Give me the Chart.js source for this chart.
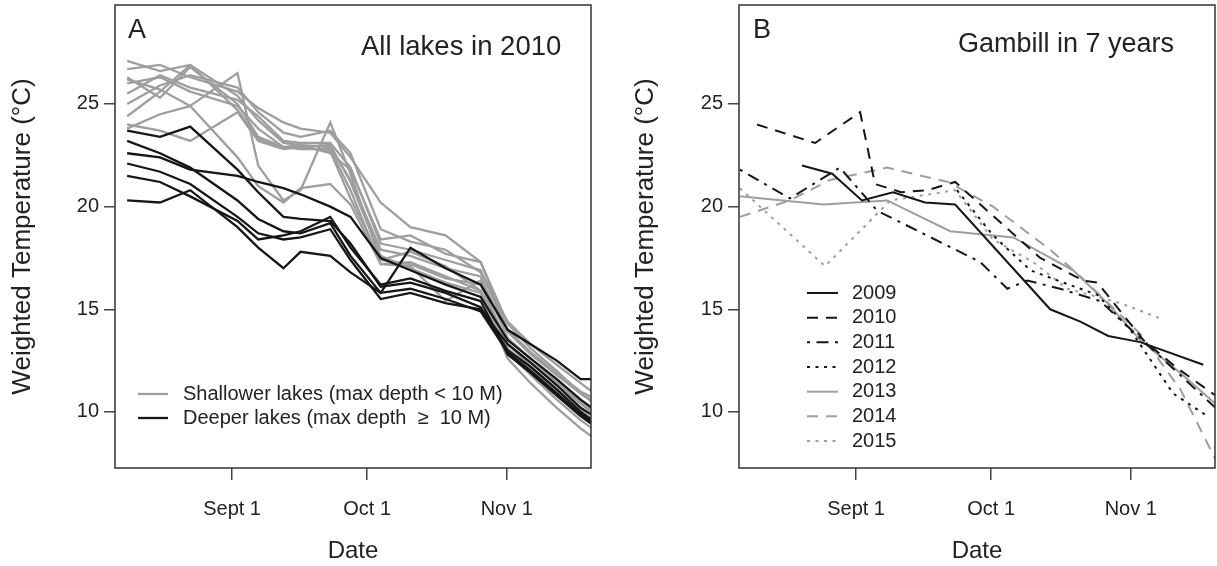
<!DOCTYPE html>
<html lang="en">
<head>
<meta charset="UTF-8">
<title>Weighted temperature</title>
<script src="https://cdn.jsdelivr.net/npm/chart.js"></script>
<style>
  body { margin: 0; background: #fff; }
  #wrap { position: relative; width: 1217px; height: 566px; }
  canvas { position: absolute; top: 0; }
</style>
</head>
<body>
<div id="wrap">
  <canvas id="chartA" width="608" height="566" style="left:0"></canvas>
  <canvas id="chartB" width="609" height="566" style="left:608px"></canvas>
</div>
<script>
// x values are day of year (Sept 1 = 244)
const tickDays = [244, 274, 305];
const tickNames = ['Sept 1', 'Oct 1', 'Nov 1'];
const yTicks = [10, 15, 20, 25];

// Panel A: all lakes in 2010, sampled on a common set of days
const daysA = [220.7, 228.0, 234.7, 245.2, 249.8, 255.4, 259.2, 265.8, 270.3, 277.0, 283.6, 291.4, 299.2, 305.2, 310.3, 316.1, 321.4, 325.8];

const deepLakes = [
  [23.7, 23.4, 23.9, 21.8, 20.7, 19.5, 19.4, 19.3, 18.2, 16.1, 16.3, 15.8, 15.1, 13.0, 12.2, 11.1, 10.0, 9.3],
  [23.2, 22.6, 21.9, 20.3, 19.4, 18.8, 18.7, 19.2, 17.6, 15.8, 16.0, 15.5, 14.9, 12.9, 12.0, 10.9, 9.9, 9.2],
  [22.6, 22.4, 21.8, 21.5, 21.2, 20.9, 20.6, 20.0, 19.5, 17.5, 16.9, 16.2, 15.6, 13.5, 12.6, 11.6, 10.6, 9.9],
  [20.3, 20.2, 20.8, 19.0, 18.0, 17.0, 17.8, 17.6, 16.8, 15.8, 18.0, 17.0, 16.2, 14.0, 13.3, 12.5, 11.6, 11.6],
  [22.1, 21.7, 21.1, 19.5, 18.7, 18.4, 18.5, 18.9, 17.4, 15.5, 15.8, 15.3, 15.0, 13.3, 12.4, 11.3, 10.2, 9.6],
  [21.5, 21.2, 20.5, 19.3, 18.4, 18.6, 18.8, 19.5, 18.0, 16.2, 16.5, 15.9, 15.4, 12.8, 11.9, 10.8, 9.8, 9.1]
];

const shallowLakes = [
  [27.1, 26.6, 26.9, 25.4, 24.2, 23.1, 23.0, 22.9, 21.3, 17.9, 17.6, 17.0, 16.6, 13.6, 12.6, 11.5, 10.5, 9.8],
  [26.2, 25.7, 24.9, 26.5, 22.0, 20.3, 20.8, 24.1, 21.6, 17.4, 17.2, 16.5, 16.2, 13.3, 12.2, 11.1, 10.1, 9.3],
  [26.7, 26.9, 26.3, 25.6, 24.8, 24.1, 23.8, 23.6, 22.4, 20.2, 19.0, 18.6, 17.3, 14.3, 13.1, 12.0, 10.9, 10.2],
  [26.3, 25.3, 26.8, 25.0, 23.4, 22.9, 22.8, 22.8, 20.8, 17.2, 17.3, 16.6, 15.9, 12.9, 11.8, 10.6, 9.6, 8.9],
  [25.5, 26.4, 25.8, 25.2, 24.4, 23.2, 23.1, 23.1, 21.9, 18.2, 17.9, 17.4, 16.9, 13.9, 12.8, 11.8, 10.9, 10.3],
  [24.4, 25.6, 26.9, 24.7, 23.3, 22.9, 22.9, 23.0, 21.2, 17.6, 17.0, 16.3, 15.8, 12.6, 11.4, 10.2, 9.2, 8.5],
  [23.8, 24.5, 24.9, 22.4, 21.0, 20.2, 20.9, 21.1, 20.1, 17.2, 17.1, 15.4, 16.4, 13.1, 12.1, 11.0, 10.0, 9.4],
  [24.0, 23.7, 23.2, 24.6, 23.2, 22.8, 22.9, 22.7, 20.4, 17.4, 17.8, 17.1, 15.9, 13.3, 12.4, 11.4, 10.4, 9.7],
  [26.0, 26.3, 25.6, 24.9, 23.8, 22.9, 23.0, 22.6, 21.8, 18.4, 18.6, 17.7, 17.3, 14.0, 12.9, 11.9, 11.0, 10.5],
  [25.0, 25.9, 26.4, 25.8, 24.6, 23.6, 23.4, 23.7, 22.6, 18.9, 18.3, 17.9, 16.8, 14.4, 13.3, 12.3, 11.4, 10.7]
];

// Panel B: Gambill in 7 years
const years = ['2009', '2010', '2011', '2012', '2013', '2014', '2015'];
const days2009 = [232.0, 238.7, 245.3, 252.2, 259.3, 266.0, 287.1, 293.8, 300.0, 307.1, 321.1];
const temp2009 = [22.0, 21.6, 20.3, 20.7, 20.2, 20.1, 15.0, 14.4, 13.7, 13.4, 12.3];
const days2010 = [222.0, 234.9, 244.9, 248.2, 254.0, 259.8, 266.0, 284.9, 294.4, 297.6, 307.8, 314.9, 323.8];
const temp2010 = [24.0, 23.1, 24.6, 21.1, 20.7, 20.8, 21.2, 17.5, 16.4, 16.3, 13.5, 12.2, 10.8];
const days2011 = [218.2, 229.3, 240.4, 248.7, 271.6, 277.6, 282.0, 289.3, 298.2, 307.1, 323.8];
const temp2011 = [21.8, 20.4, 21.9, 19.8, 17.3, 16.0, 16.4, 16.0, 15.4, 13.6, 10.2];
const days2012 = [266.4, 274.4, 282.7, 290.0, 297.6, 304.9, 314.4, 322.0];
const temp2012 = [20.8, 18.6, 16.9, 16.3, 15.7, 14.0, 10.9, 9.8];
const days2013 = [218.2, 236.7, 250.9, 264.9, 278.9, 292.2, 299.8, 307.1, 316.0, 323.8];
const temp2013 = [20.5, 20.1, 20.3, 18.8, 18.5, 16.9, 15.3, 13.5, 11.9, 10.4];
const days2014 = [218.2, 229.3, 238.2, 250.9, 264.4, 274.4, 287.1, 293.8, 307.1, 316.0, 323.8];
const temp2014 = [19.5, 20.3, 21.3, 21.9, 21.2, 20.0, 17.9, 16.6, 13.8, 11.1, 7.7];
const days2015 = [218.2, 237.1, 251.6, 266.0, 274.4, 283.3, 290.9, 302.7, 312.2];
const temp2015 = [20.9, 17.1, 20.3, 20.8, 18.4, 17.3, 16.0, 15.3, 14.5];

const GRAY = '#9e9e9e';
const BLACK = '#161616';
const FONT = '"Liberation Sans", Arial, Helvetica, sans-serif';
const TEXT = '#222';

const dashed = [11, 8];
const dotted = [3, 5.5];
const dotDash = [3, 6.5, 12, 6.5];

function toPoints(days, temps) {
    return days.map((d, i) => ({ x: d, y: temps[i] }));
}

// box around the plot area
const framePlugin = {
    id: 'frame',
    afterDatasetsDraw(chart) {
        const { ctx, chartArea: a } = chart;
        ctx.save();
        ctx.strokeStyle = '#333';
        ctx.lineWidth = 1.5;
        ctx.strokeRect(a.left, a.top, a.right - a.left, a.bottom - a.top);
        ctx.restore();
    }
};

// panel letter, panel title and the hand-made legend
const panelText = {
    id: 'panelText',
    afterDraw(chart, args, opts) {
        const { ctx, chartArea: a } = chart;
        ctx.save();
        ctx.fillStyle = TEXT;
        ctx.textBaseline = 'alphabetic';
        ctx.textAlign = 'left';
        ctx.font = '27px ' + FONT;
        ctx.fillText(opts.letter, a.left + opts.letterX, 38);
        ctx.font = opts.titleSize + 'px ' + FONT;
        ctx.fillText(opts.title, a.left + opts.titleX, opts.titleY);

        ctx.font = '20px ' + FONT;
        ctx.textBaseline = 'middle';
        opts.items.forEach((it, i) => {
            const y = opts.legendTop + i * opts.legendStep;
            ctx.beginPath();
            ctx.setLineDash(it.dash || []);
            ctx.strokeStyle = it.color;
            ctx.lineWidth = it.width;
            ctx.moveTo(a.left + opts.lineX0, y);
            ctx.lineTo(a.left + opts.lineX1, y);
            ctx.stroke();
            ctx.setLineDash([]);
            ctx.fillStyle = TEXT;
            ctx.fillText(it.label, a.left + opts.textX, y);
        });
        ctx.restore();
    }
};

function makeScales(yWidth, yTitlePad) {
    return {
        x: {
            type: 'linear',
            min: 218,
            max: 323.7,
            afterBuildTicks: s => { s.ticks = tickDays.map(v => ({ value: v })); },
            afterFit: s => { s.height = 98; s.paddingLeft = 0; s.paddingRight = 0; },
            ticks: {
                autoSkip: false,
                maxRotation: 0,
                padding: 17,
                color: TEXT,
                font: { family: FONT, size: 20 },
                callback: (v, i) => tickNames[i]
            },
            grid: { drawOnChartArea: false, drawTicks: true, tickLength: 12, color: '#444', lineWidth: 1.5 },
            border: { display: false },
            title: { display: true, text: 'Date', color: TEXT, font: { family: FONT, size: 24 }, padding: { top: 0, bottom: 0 } }
        },
        y: {
            type: 'linear',
            min: 7.27,
            max: 29.82,
            afterBuildTicks: s => { s.ticks = yTicks.map(v => ({ value: v })); },
            afterFit: s => { s.width = yWidth; s.paddingTop = 0; s.paddingBottom = 0; },
            ticks: {
                padding: 5,
                color: TEXT,
                font: { family: FONT, size: 20 },
                callback: v => String(v)
            },
            grid: { drawOnChartArea: false, drawTicks: true, tickLength: 11, color: '#444', lineWidth: 1.5 },
            border: { display: false },
            title: { display: true, text: 'Weighted Temperature (°C)', color: TEXT, font: { family: FONT, size: 26 }, padding: { top: yTitlePad, bottom: 0 } }
        }
    };
}

function lineStyle(color, width, dash) {
    return {
        borderColor: color,
        backgroundColor: color,
        borderWidth: width,
        borderDash: dash,
        pointRadius: 0,
        tension: 0,
        fill: false
    };
}

// Panel A
const datasetsA = [];
deepLakes.forEach((row, i) => {
    datasetsA.push(Object.assign({ label: 'Deeper ' + (i + 1), data: toPoints(daysA, row) }, lineStyle(BLACK, 2.3, [])));
});
shallowLakes.forEach((row, i) => {
    datasetsA.push(Object.assign({ label: 'Shallower ' + (i + 1), data: toPoints(daysA, row) }, lineStyle(GRAY, 2.3, [])));
});

new Chart(document.getElementById('chartA'), {
    type: 'line',
    data: { datasets: datasetsA },
    options: {
        responsive: false,
        animation: false,
        devicePixelRatio: 1,
        layout: { padding: { top: 5, right: 17, left: 0, bottom: 0 } },
        scales: makeScales(115, 7),
        plugins: {
            legend: { display: false },
            tooltip: { enabled: false },
            panelText: {
                letter: 'A', letterX: 13,
                title: 'All lakes in 2010', titleX: 246, titleY: 55, titleSize: 27.5,
                legendTop: 394, legendStep: 24,
                lineX0: 23, lineX1: 53, textX: 68,
                items: [
                    { label: 'Shallower lakes (max depth < 10 M)', color: GRAY, width: 2.3 },
                    { label: 'Deeper lakes (max depth  \u2265  10 M)', color: BLACK, width: 2.3 }
                ]
            }
        }
    },
    plugins: [framePlugin, panelText]
});

// Panel B
const yearDays = [days2009, days2010, days2011, days2012, days2013, days2014, days2015];
const yearTemps = [temp2009, temp2010, temp2011, temp2012, temp2013, temp2014, temp2015];
const yearColors = [BLACK, BLACK, BLACK, BLACK, GRAY, GRAY, GRAY];
const yearDash = [[], dashed, dotDash, dotted, [], dashed, dotted];

const datasetsB = years.map((y, i) => Object.assign(
    { label: y, data: toPoints(yearDays[i], yearTemps[i]) },
    lineStyle(yearColors[i], 2, yearDash[i])
));

new Chart(document.getElementById('chartB'), {
    type: 'line',
    data: { datasets: datasetsB },
    options: {
        responsive: false,
        animation: false,
        devicePixelRatio: 1,
        layout: { padding: { top: 5, right: 2, left: 0, bottom: 0 } },
        scales: makeScales(131, 22),
        plugins: {
            legend: { display: false },
            tooltip: { enabled: false },
            panelText: {
                letter: 'B', letterX: 14,
                title: 'Gambill in 7 years', titleX: 219, titleY: 52, titleSize: 27,
                legendTop: 293, legendStep: 24.67,
                lineX0: 68, lineX1: 99, textX: 113,
                items: years.map((y, i) => ({ label: y, color: yearColors[i], width: 2, dash: yearDash[i] }))
            }
        }
    },
    plugins: [framePlugin, panelText]
});
</script>
</body>
</html>
